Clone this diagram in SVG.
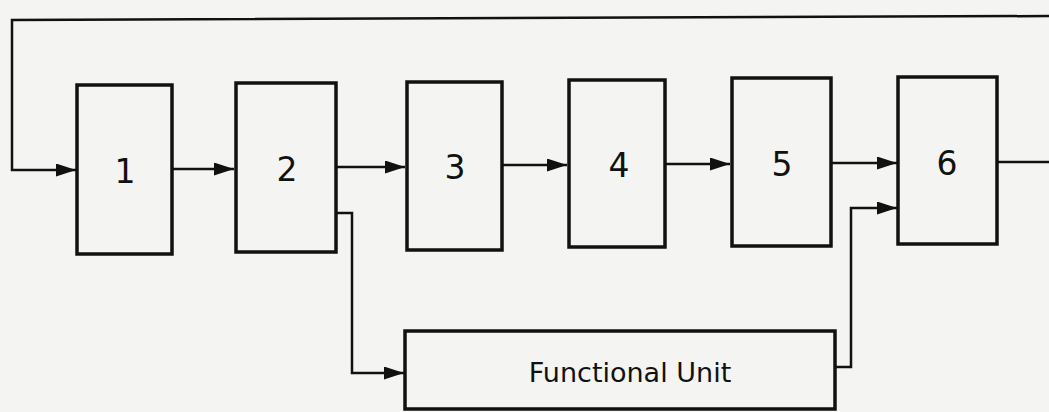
<svg xmlns="http://www.w3.org/2000/svg" width="1049" height="412" viewBox="0 0 1049 412">
<style>
.box{fill:none;stroke:#111;stroke-width:3.5}
.ln{fill:none;stroke:#111;stroke-width:2.5}
.lbl{font-family:"DejaVu Sans",sans-serif;font-size:33px;fill:#111;text-anchor:middle;dominant-baseline:central}
.fu{font-family:"DejaVu Sans",sans-serif;font-size:27px;fill:#111;text-anchor:middle;dominant-baseline:central}
</style>
<defs>
<marker id="ah" markerWidth="20" markerHeight="13" refX="20" refY="6.5" orient="auto" markerUnits="userSpaceOnUse">
<path d="M0,0 L20,6.5 L0,13 z" fill="#111"/>
</marker>
</defs>
<rect width="1049" height="412" fill="#f4f4f2"/>
<g id="connectors">
<polyline class="ln" points="1049,16 12,20 12,170 76,170" marker-end="url(#ah)"/>
<line class="ln" x1="172" y1="169" x2="234" y2="169" marker-end="url(#ah)"/>
<line class="ln" x1="336" y1="167" x2="405" y2="167" marker-end="url(#ah)"/>
<line class="ln" x1="502" y1="165" x2="567" y2="165" marker-end="url(#ah)"/>
<line class="ln" x1="665" y1="164" x2="730" y2="164" marker-end="url(#ah)"/>
<line class="ln" x1="831" y1="163" x2="897" y2="163" marker-end="url(#ah)"/>
<line class="ln" x1="997" y1="162" x2="1049" y2="162"/>
<polyline class="ln" points="336,213 352,213 352,373 404,373" marker-end="url(#ah)"/>
<polyline class="ln" points="835,367 851,367 851,208 897,208" marker-end="url(#ah)"/>
</g>
<g id="n1"><rect class="box" x="77" y="85" width="95" height="169"/><text class="lbl" x="125" y="171">1</text></g>
<g id="n2"><rect class="box" x="236" y="83" width="100" height="169"/><text class="lbl" x="287" y="169">2</text></g>
<g id="n3"><rect class="box" x="407" y="82" width="95" height="168"/><text class="lbl" x="455" y="167">3</text></g>
<g id="n4"><rect class="box" x="569" y="80" width="96" height="167"/><text class="lbl" x="619" y="165">4</text></g>
<g id="n5"><rect class="box" x="732" y="78" width="99" height="168"/><text class="lbl" x="782" y="164">5</text></g>
<g id="n6"><rect class="box" x="898" y="77" width="99" height="167"/><text class="lbl" x="947" y="163">6</text></g>
<g id="fu"><rect class="box" x="405" y="331" width="430" height="78"/><text class="fu" x="630" y="372">Functional Unit</text></g>
</svg>
